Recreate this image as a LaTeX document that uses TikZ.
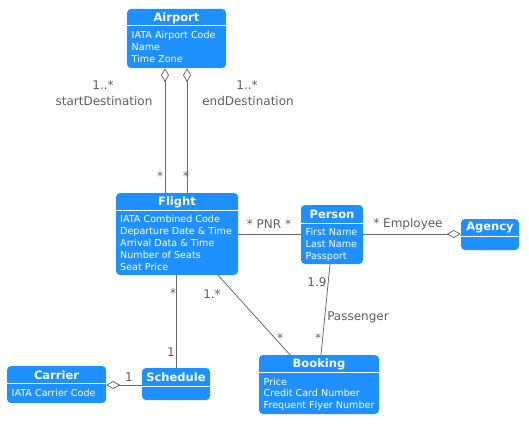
\documentclass[tikz,border=0pt]{standalone}
\usepackage{fontspec}
\setmainfont{DejaVu Sans}
\usetikzlibrary{arrows.meta}
\definecolor{boxblue}{HTML}{1E90FF}
\definecolor{linegray}{HTML}{6A6A6A}
\definecolor{labgray}{HTML}{5E5E5E}
\newcommand{\umlclass}[7]{%
  \node[classbox, minimum width={#4-#2}, minimum height={#5-#3}] (#1) at ({(#2+#4)/2},{(#3+#5)/2}) {};
  \draw[white, line width=1pt] (#2,#6) -- (#4,#6);
  \node[ctitle] at ({(#2+#4)/2},{(#3+#6)/2+0.5}) {#7};
}
\begin{document}
\begin{tikzpicture}[x=1pt,y=-1pt,
  classbox/.style={fill=boxblue, rounded corners=4pt, inner sep=0pt, draw=none},
  ctitle/.style={text=white, font=\bfseries\fontsize{11.5}{13}\selectfont, inner sep=0pt},
  attr/.style={text=white, font=\fontsize{9.6}{11.8}\selectfont, align=left, anchor=north west, inner sep=0pt},
  conn/.style={draw=linegray, line width=0.8pt},
  agg/.style={-{Diamond[open, fill=white, length=14pt, width=8pt, line width=0.8pt]}},
  lab/.style={text=labgray, font=\fontsize{12}{14}\selectfont, inner sep=0pt}
]
\useasboundingbox (0,0) rectangle (529,425);

% classes
\umlclass{airport}{127}{9}{226}{68}{26}{Airport}
\node[attr] at (131.5,31) {IATA Airport Code\\Name\\Time Zone};

\umlclass{flight}{116}{193}{238}{275}{210}{Flight}
\node[attr] at (120,215.5) {IATA Combined Code\\Departure Date \& Time\\Arrival Data \& Time\\Number of Seats\\Seat Price};

\umlclass{person}{301}{205}{363}{264}{223}{Person}
\node[attr] at (305.5,228.5) {First Name\\Last Name\\Passport};

\umlclass{agency}{461}{219}{519}{250}{236}{Agency}

\umlclass{carrier}{7}{366}{106}{403}{383}{Carrier}
\node[attr] at (11.5,389.5) {IATA Carrier Code};

\umlclass{schedule}{142}{368}{210}{400}{386}{Schedule}

\umlclass{booking}{259}{355}{379}{414}{372}{Booking}
\node[attr] at (263.5,377.5) {Price\\Credit Card Number\\Frequent Flyer Number};

% connectors
\draw[conn,agg] (flight.north -| 165,0) -- (airport.south -| 165,0);
\draw[conn,agg] (flight.north -| 187,0) -- (airport.south -| 187,0);
\draw[conn] (flight.east |- 0,234) -- (person.west |- 0,234);
\draw[conn,agg] (person.east |- 0,234) -- (agency.west |- 0,234);
\draw[conn] (flight.south -| 176,0) -- (schedule.north -| 176,0);
\draw[conn] (flight.south -| 218,0) -- (booking.north -| 290,0);
\draw[conn] (person.south -| 330,0) -- (booking.north -| 321,0);
\draw[conn,agg] (schedule.west |- 0,385) -- (carrier.east |- 0,385);

% labels
\node[lab] at (103,85) {1..*};
\node[lab] at (104,101) {startDestination};
\node[lab] at (247,85) {1..*};
\node[lab] at (248,101) {endDestination};
\node[lab] at (160,176) {*};
\node[lab] at (186,176) {*};
\node[lab] at (269,224) {* PNR *};
\node[lab] at (408,224) {* Employee};
\node[lab] at (173,293) {*};
\node[lab] at (212,294) {1.*};
\node[lab] at (171,352) {1};
\node[lab] at (129,377) {1};
\node[lab] at (317,282) {1.9};
\node[lab] at (358,317) {Passenger};
\node[lab] at (280,338) {*};
\node[lab] at (318,338) {*};
\end{tikzpicture}
\end{document}
